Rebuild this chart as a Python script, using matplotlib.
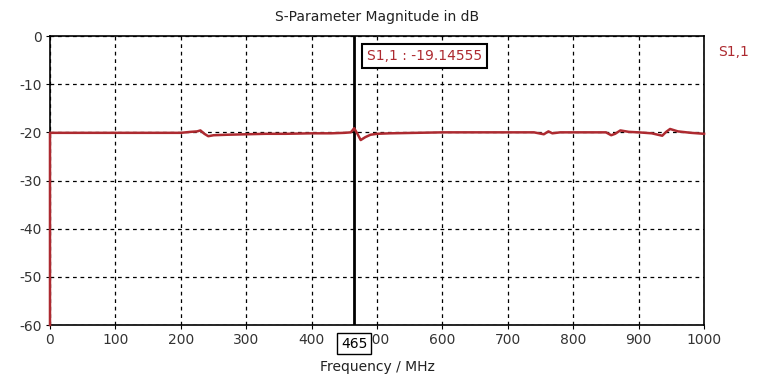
import matplotlib.pyplot as plt

plt.rcParams['axes.unicode_minus'] = False

# S11 trace (MHz, dB)
freq = [0, 0, 100, 200, 215, 225, 230, 236, 242, 250, 270, 300, 330, 360, 400,
        430, 450, 460, 465, 470, 475, 482, 490, 500, 520, 560, 600, 700, 740,
        755, 762, 768, 780, 850, 858, 864, 872, 885, 900, 920, 936, 942, 948,
        960, 980, 1000]
s11 = [-60, -20.1, -20.1, -20.1, -19.9, -19.8, -19.6, -20.3, -20.8, -20.6,
       -20.5, -20.4, -20.3, -20.3, -20.2, -20.2, -20.1, -20.0, -19.15, -20.3,
       -21.6, -21.0, -20.5, -20.3, -20.2, -20.1, -20.0, -20.0, -20.0, -20.4,
       -19.8, -20.2, -20.0, -20.0, -20.6, -20.3, -19.6, -19.9, -20.0, -20.2,
       -20.7, -19.9, -19.3, -19.8, -20.1, -20.3]

x_ticks = [0, 100, 200, 300, 400, 500, 600, 700, 800, 900, 1000]
y_ticks = [0, -10, -20, -30, -40, -50, -60]

marker_freq = 465
marker_val = -19.14555
trace_name = "S1,1"
red = '#ad2a30'

fig = plt.figure(figsize=(7.75, 3.84), dpi=100)
ax = fig.add_axes([0.0645, 0.1536, 0.844, 0.7526])

ax.plot(freq, s11, color=red, linewidth=1.8, zorder=5, clip_on=False)
ax.axvline(marker_freq, color='black', linewidth=2, zorder=4)

ax.set_xlim(0, 1000)
ax.set_ylim(-60, 0)
ax.set_xticks(x_ticks)
ax.set_yticks(y_ticks)
ax.tick_params(labelsize=10, length=3, direction='out', pad=3, labelcolor='#333333')
ax.grid(True, color='black', linestyle=(0, (3, 3)), linewidth=0.9)
for s in ax.spines.values():
    s.set_linewidth(1.2)

ax.set_title("S-Parameter Magnitude in dB", fontsize=10, pad=11, color='#222222')
ax.set_xlabel("Frequency / MHz", fontsize=10, labelpad=9, color='#222222')

ax.text(0.485, 0.955, f"{trace_name} : {marker_val}", transform=ax.transAxes,
        color=red, fontsize=10, ha='left', va='top', zorder=6,
        bbox=dict(boxstyle='square,pad=0.35', facecolor='white', edgecolor='black', linewidth=1.5))
ax.text(marker_freq, -62.4, f"{marker_freq}", color='black', fontsize=10,
        ha='center', va='top', zorder=6,
        bbox=dict(boxstyle='square,pad=0.25', facecolor='white', edgecolor='black', linewidth=1))

fig.text(0.927, 0.865, trace_name, color=red, fontsize=10, ha='left', va='center')

fig.savefig("out.png", dpi=100)
